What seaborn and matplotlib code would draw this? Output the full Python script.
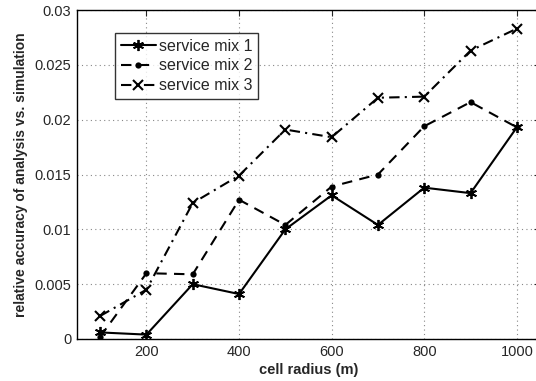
import matplotlib
matplotlib.use("Agg")
import matplotlib.pyplot as plt
import seaborn as sns
import pandas as pd

radius = [100, 200, 300, 400, 500, 600, 700, 800, 900, 1000]
mix1 = [0.0006, 0.0004, 0.0050, 0.0041, 0.0100, 0.0131, 0.0104, 0.0138, 0.0133, 0.0193]
mix2 = [0.0002, 0.0060, 0.0059, 0.0127, 0.0104, 0.0139, 0.0150, 0.0194, 0.0216, 0.0193]
mix3 = [0.0021, 0.0045, 0.0124, 0.0149, 0.0191, 0.0184, 0.0220, 0.0221, 0.0263, 0.0283]
labels = ["service mix 1", "service mix 2", "service mix 3"]
xticks = [200, 400, 600, 800, 1000]
yticks = [0, 0.005, 0.01, 0.015, 0.02, 0.025, 0.03]
ytick_labels = ["0", "0.005", "0.01", "0.015", "0.02", "0.025", "0.03"]

sns.set_style("white")
plt.rcParams["font.family"] = ["Liberation Sans", "DejaVu Sans"]

fig = plt.figure(figsize=(5.36, 3.81), dpi=100)
ax = fig.add_axes([77 / 536, 42 / 381, 463 / 536, 329 / 381])

styles = [
    dict(linestyle="-", marker=(6, 2, 0), markersize=8, markeredgewidth=1.3),
    dict(linestyle=(0, (5, 3.5)), marker="o", markersize=4.5, markeredgewidth=0),
    dict(linestyle=(0, (5, 2.5, 1, 2.5)), marker="x", markersize=7, markeredgewidth=1.5),
]
for vals, lab, st in zip([mix1, mix2, mix3], labels, styles):
    df = pd.DataFrame({"radius": radius, "acc": vals})
    sns.lineplot(data=df, x="radius", y="acc", ax=ax, color="black",
                 linewidth=1.5, label=lab, markeredgecolor="black", **st)

ax.set_xlim(50, 1050)
ax.set_ylim(0, 0.03)
ax.set_xticks(xticks)
ax.set_yticks(yticks)
ax.set_yticklabels(ytick_labels)
ax.tick_params(direction="in", length=4, width=0.8, labelsize=10.5, top=True, right=True, pad=4)
ax.grid(True, linestyle=(0, (1, 3)), color="#888888", linewidth=0.8)
for s in ax.spines.values():
    s.set_color("black")
    s.set_linewidth(1.0)

ax.set_xlabel("cell radius (m)", fontsize=10.5, fontweight="bold", labelpad=3)
ax.set_ylabel("relative accuracy of analysis vs. simulation", fontsize=10, fontweight="bold", labelpad=5)

leg = ax.legend(loc="upper left", bbox_to_anchor=(38 / 463, 1 - 23 / 329), fontsize=11.5,
                frameon=True, fancybox=False, edgecolor="black", handlelength=2.2,
                handletextpad=0.2, borderpad=0.35, labelspacing=0.3, borderaxespad=0)
leg.get_frame().set_linewidth(1.0)

fig.savefig("out.png", dpi=100)
